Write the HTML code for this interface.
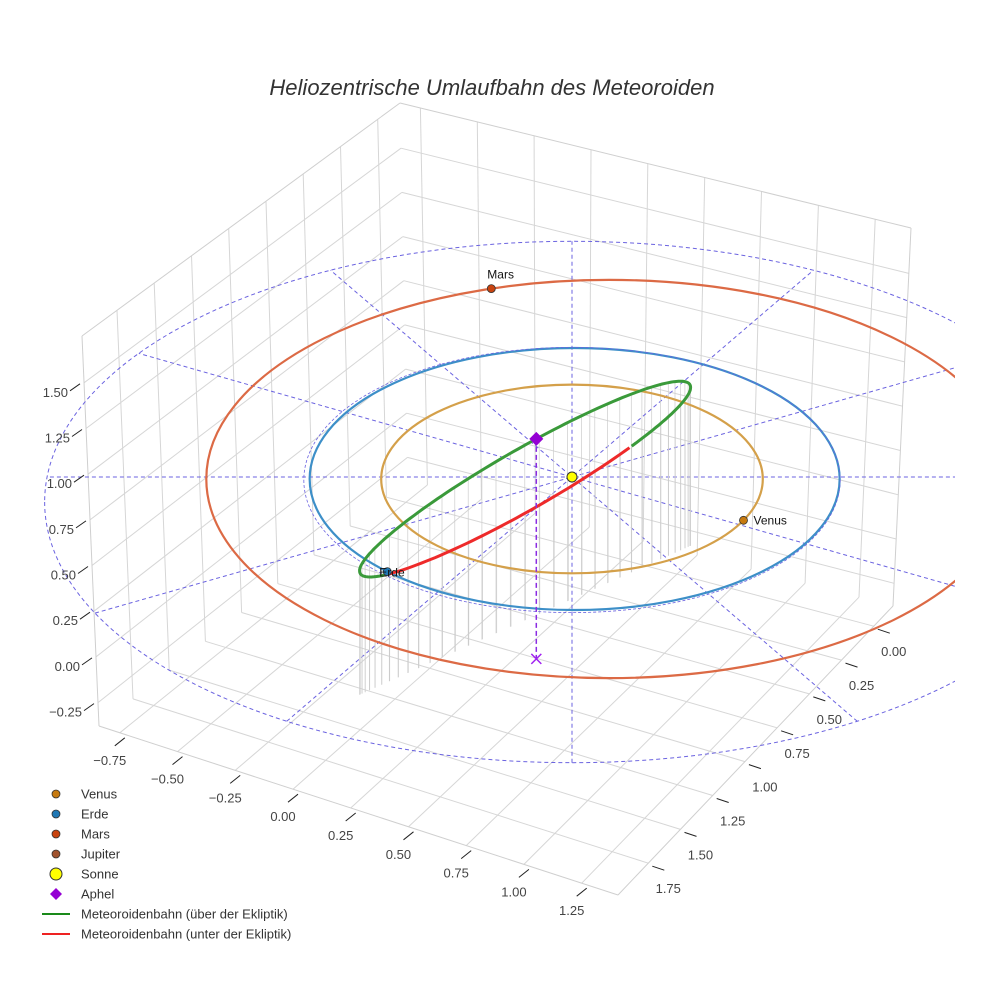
<!DOCTYPE html>
<html><head><meta charset="utf-8">
<style>
html,body{margin:0;padding:0;background:#fff;}
svg{display:block;font-family:"Liberation Sans",sans-serif;}
</style></head>
<body>
<svg id="chart" width="984" height="984" viewBox="0 0 984 984" xmlns="http://www.w3.org/2000/svg">
<rect width="984" height="984" fill="#fff"/>
<text x="492" y="95" text-anchor="middle" font-size="22" font-style="italic" fill="#333">Heliozentrische Umlaufbahn des Meteoroiden</text>
<defs><clipPath id="sc"><rect x="0" y="60" width="955" height="900"/></clipPath></defs>
<g id="walls"></g>
<g id="scene" clip-path="url(#sc)"></g>
<g id="axes"></g>
<g id="legend"></g>
</svg>
<script>
// ---- data ----
const xTicks = [-0.75,-0.5,-0.25,0,0.25,0.5,0.75,1,1.25];
const yTicks = [0,0.25,0.5,0.75,1,1.25,1.5,1.75];
const zTicks = [-0.25,0,0.25,0.5,0.75,1,1.25,1.5];
const planetNames = ["Venus","Erde","Mars"];
const planetRadius = [0.72,1.0,1.52];      // AU
const planetEcc = [0.0,0.01,0.14];          // centre offset in AU (x)
const planetAngle = [26,135,-107];          // degrees of current position
const planetColors = ["#d4a04a","#3d8fc8","#dc6a45"];
const markerColors = ["#c67a10","#1f77b4","#c8430f"];
const jupiterRadius = 1.99;
const radialAngles = [0,30,60,90,120,150];
// meteoroid orbit (projected): semi-major (AU), semi-minor (AU), tilt (deg)
const meteorA = [0.717];
const meteorB = [0.112];
const meteorTilt = [29.8];
const meteorCentreOffset = [-0.177, 0.008]; // AU (x,y) from sun
const aphelAngle = [279];
const aphelHeight = [0.83];
const legendLabels = ["Venus","Erde","Mars","Jupiter","Sonne","Aphel","Meteoroidenbahn (über der Ekliptik)","Meteoroidenbahn (unter der Ekliptik)"];

// ---- projection ----
const SUN = [572,477], KX = 265, KY = 131;
function proj(X,Y){ return [SUN[0]+X*KX, SUN[1]+Y*KY]; }
const svgNS="http://www.w3.org/2000/svg";
function mk(tag, attrs, parent){ const e=document.createElementNS(svgNS,tag); for(const k in attrs) e.setAttribute(k,attrs[k]); parent.appendChild(e); return e; }
const walls=document.getElementById('walls'), scene=document.getElementById('scene'), axes=document.getElementById('axes'), legend=document.getElementById('legend');

const Lb=[99,726], F=[618,895], Rb=[893,606], Bb=[408,480], Lt=[82,336], T=[400,103], Rt=[911,228];
function lerp(a,b,t){return [a[0]+(b[0]-a[0])*t, a[1]+(b[1]-a[1])*t];}
function line(a,b,st,w,parent,dash){ const l=mk('line',{x1:a[0].toFixed(1),y1:a[1].toFixed(1),x2:b[0].toFixed(1),y2:b[1].toFixed(1),stroke:st,'stroke-width':w},parent); if(dash) l.setAttribute('stroke-dasharray',dash); return l; }
const xf = v => 0.04 + (v-(-0.75))/2.0*0.89;
const yf = v => 0.93 - v/1.75*0.82;
const zf = v => 0.06 + (v-(-0.25))/1.75*0.82;
xTicks.forEach(v=>{ const u=xf(v); const g=line(lerp(Lb,F,u), lerp(Bb,Rb,u), '#d6d6d6',1,walls);   });
yTicks.forEach(v=>{ const u=yf(v); const g=line(lerp(F,Rb,u), lerp(Lb,Bb,u), '#d6d6d6',1,walls);   });
yTicks.forEach(v=>{ const u=yf(v); const g=line(lerp(Lb,Bb,u), lerp(Lt,T,u), '#d6d6d6',1,walls);   });
zTicks.forEach(v=>{ const t=zf(v); const g=line(lerp(Lb,Lt,t), lerp(Bb,T,t), '#d6d6d6',1,walls);   });
xTicks.forEach(v=>{ const u=xf(v); const g=line(lerp(Bb,Rb,u), lerp(T,Rt,u), '#d6d6d6',1,walls);   });
zTicks.forEach(v=>{ const t=zf(v); const g=line(lerp(Bb,T,t), lerp(Rb,Rt,t), '#d6d6d6',1,walls);   });
[[Lb,Lt],[Lt,T],[T,Rt],[Rt,Rb],[Lb,F],[F,Rb]].forEach(e=>{ const g=line(e[0],e[1],'#cfcfcf',1,walls);   });

function tickLbl(txt,x,y,anchor){ const t=mk('text',{x:x,y:y,'font-size':13,fill:'#444','text-anchor':anchor},axes); t.textContent=txt; return t; }
const fmt=v=>(v<0?'\u2212':'')+Math.abs(v).toFixed(2);
zTicks.forEach(v=>{ const p=lerp(Lb,Lt,zf(v)); line([p[0]-4,p[1]+1],[p[0]-14,p[1]+8],'#222',1,axes); const t=tickLbl(fmt(v),p[0]-16,p[1]+14,'end');   });
xTicks.forEach(v=>{ const p=lerp(Lb,F,xf(v)); line([p[0]+5,p[1]+5],[p[0]-5,p[1]+13],'#222',1,axes); const t=tickLbl(fmt(v),p[0]-10,p[1]+32,'middle');   });
yTicks.forEach(v=>{ const p=lerp(F,Rb,yf(v)); line([p[0]+4,p[1]+3],[p[0]+16,p[1]+7],'#222',1,axes); const t=tickLbl(fmt(v),p[0]+20,p[1]+30,'middle');   });

// ---- scene ----
function ellipsePath(cx,cy,rx,ry){ return `M${cx-rx},${cy} a${rx},${ry} 0 1,0 ${2*rx},0 a${rx},${ry} 0 1,0 ${-2*rx},0`; }
const jc=[SUN[0], SUN[1]+25], jrx=jupiterRadius*KX, jry=jupiterRadius*KY;
let e=mk('path',{d:ellipsePath(jc[0],jc[1],jrx,jry),fill:'none',stroke:'#6b63e0','stroke-width':1,'stroke-dasharray':'4,3'},scene);
 
function rayHit(dx,dy){ let lo=0,hi=2000; for(let i=0;i<40;i++){ const m=(lo+hi)/2; const x=SUN[0]+dx*m-jc[0], y=SUN[1]+dy*m-jc[1]; if((x*x)/(jrx*jrx)+(y*y)/(jry*jry)<1) lo=m; else hi=m; } return [SUN[0]+dx*lo, SUN[1]+dy*lo]; }
radialAngles.forEach(a=>{ const r=a*Math.PI/180; const dx=Math.cos(r)*KX, dy=Math.sin(r)*KY; const n=Math.hypot(dx,dy);
  const p1=rayHit(dx/n,dy/n), p2=rayHit(-dx/n,-dy/n);
  const l=line(p1,p2,'#6b63e0',1,scene,'4,3');   });
const ang=-meteorTilt[0]*Math.PI/180, u=[Math.cos(ang),Math.sin(ang)], vv=[-Math.sin(ang),Math.cos(ang)];
const mA=meteorA[0]*KX, mB=meteorB[0]*KX;
const mc=[SUN[0]+meteorCentreOffset[0]*KX, SUN[1]+meteorCentreOffset[1]*KX];
function mpt(deg){ const t=deg*Math.PI/180; return [mc[0]+mA*Math.cos(t)*u[0]+mB*Math.sin(t)*vv[0], mc[1]+mA*Math.cos(t)*u[1]+mB*Math.sin(t)*vv[1]]; }
const floorY = x => 690 - (x-370)*0.45;
for(let d=0; d<360; d+=5){ const p=mpt(d); const l=line(p,[p[0],floorY(p[0])],'#cccccc',0.7,scene);   }
planetNames.forEach((n,i)=>{ const c=proj(planetEcc[i],0);
  const o=mk('path',{d:ellipsePath(c[0],c[1]+2,planetRadius[i]*KX,planetRadius[i]*KY),fill:'none',stroke:planetColors[i],'stroke-width':2.2},scene);
    });
e=mk('path',{d:ellipsePath(SUN[0],SUN[1]+3,1.012*KX,1.012*KY),fill:'none',stroke:'#6b63e0','stroke-width':0.8,'stroke-dasharray':'3,2'},scene);
 
function arc(a0,a1){ let s=''; for(let d=a0; d<=a1+0.01; d+=2){ const p=mpt(d); s+=(s?'L':'M')+p[0].toFixed(1)+','+p[1].toFixed(1); } return s; }
e=mk('path',{d:arc(153,416),fill:'none',stroke:'#3a9a3a','stroke-width':3},scene);
 
e=mk('path',{d:arc(56,153),fill:'none',stroke:'#ee2a2a','stroke-width':3},scene);
 
const ap=mpt(aphelAngle[0]), apDrop=[ap[0], ap[1]+aphelHeight[0]*KX];
e=line(ap,apDrop,'#8a2be2',1.5,scene,'5,3');  
e=mk('path',{d:`M${apDrop[0]-5},${apDrop[1]-5}L${apDrop[0]+5},${apDrop[1]+5}M${apDrop[0]+5},${apDrop[1]-5}L${apDrop[0]-5},${apDrop[1]+5}`,stroke:'#a020f0','stroke-width':1.5},scene);
 
e=mk('path',{d:`M${ap[0]},${ap[1]-7}L${ap[0]+7},${ap[1]}L${ap[0]},${ap[1]+7}L${ap[0]-7},${ap[1]}Z`,fill:'#9400d3'},scene);
 
e=mk('circle',{cx:SUN[0],cy:SUN[1],r:5,fill:'#ffff00',stroke:'#333','stroke-width':1},scene);
 
const labelOff=[[10,4,'start'],[-8,5,'start'],[-4,-10,'start']];
planetNames.forEach((n,i)=>{ const c=proj(planetEcc[i],0), a=planetAngle[i]*Math.PI/180;
  const p=[c[0]+planetRadius[i]*KX*Math.cos(a), c[1]+2+planetRadius[i]*KY*Math.sin(a)];
  const m=mk('circle',{cx:p[0].toFixed(1),cy:p[1].toFixed(1),r:4,fill:markerColors[i],stroke:'#333','stroke-width':0.8},scene);
   
  const t=mk('text',{x:(p[0]+labelOff[i][0]).toFixed(1),y:(p[1]+labelOff[i][1]).toFixed(1),'font-size':12,fill:'#111','text-anchor':labelOff[i][2]},scene);
  t.textContent=n;   });

const legSym=['dot','dot','dot','dot','sun','diamond','green','red'];
const legCol=['#c67a10','#1f77b4','#c8430f','#a0522d','#ffff00','#9400d3','#1a8a1a','#ee2222'];
legendLabels.forEach((lab,i)=>{ const y=794+i*20; const g=mk('g',{},legend);
   
  const s=legSym[i];
  if(s==='dot') mk('circle',{cx:56,cy:y,r:4,fill:legCol[i],stroke:'#333','stroke-width':0.8},g);
  else if(s==='sun') mk('circle',{cx:56,cy:y,r:6,fill:legCol[i],stroke:'#333','stroke-width':1},g);
  else if(s==='diamond') mk('path',{d:`M56,${y-6}L62,${y}L56,${y+6}L50,${y}Z`,fill:legCol[i]},g);
  else mk('line',{x1:42,y1:y,x2:70,y2:y,stroke:legCol[i],'stroke-width':2},g);
  const t=mk('text',{x:81,y:y+4.5,'font-size':13,fill:'#333'},g); t.textContent=lab; });
</script>
</body></html>
